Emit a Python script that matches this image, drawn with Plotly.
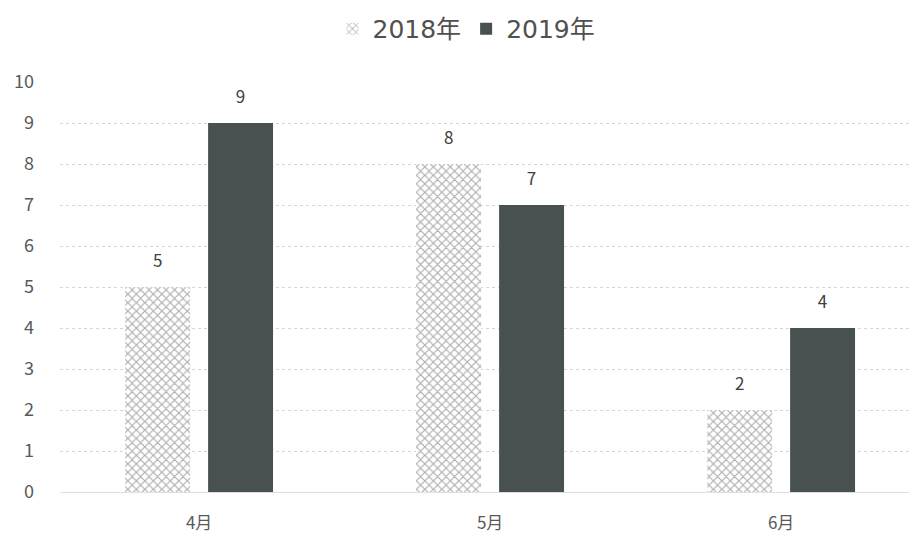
import plotly.graph_objects as go

categories = ["4月", "5月", "6月"]
series_2018 = [5, 8, 2]
series_2019 = [9, 7, 4]
yticks = list(range(0, 11))

FONT = "Noto Sans CJK SC"
LEG_FONT = "DejaVu Sans, Noto Sans CJK SC"
LABEL_TPL = "<span style='font-size:17px'>%{text}</span><br> "

fig = go.Figure()
fig.add_trace(go.Bar(
    name="2018年", x=categories, y=series_2018,
    text=series_2018, texttemplate=LABEL_TPL, textposition="outside",
    textfont=dict(size=11, color="#404040", family=FONT),
    marker=dict(color="white", line=dict(width=0),
                pattern=dict(shape="x", fgcolor="#5a5a5a", bgcolor="white", size=6, solidity=0.35)),
    cliponaxis=False,
))
fig.add_trace(go.Bar(
    name="2019年", x=categories, y=series_2019,
    text=series_2019, texttemplate=LABEL_TPL, textposition="outside",
    textfont=dict(size=11, color="#404040", family=FONT),
    marker=dict(color="#454a52", line=dict(width=0),
                pattern=dict(shape="|", fgcolor="#56465f", bgcolor="#42544b", size=4, solidity=0.5)),
    cliponaxis=False,
))

fig.update_layout(
    width=917, height=551,
    margin=dict(l=52, r=8, t=74, b=67),
    paper_bgcolor="white", plot_bgcolor="white",
    barmode="group", bargap=0.43, bargroupgap=0.217,
    font=dict(family=FONT, color="#595959"),
    showlegend=True,
    legend=dict(orientation="h", x=0.5, xref="container", xanchor="center",
                y=0.962, yref="container", yanchor="middle",
                font=dict(size=25, color="#505050", family=LEG_FONT),
                itemwidth=30, itemsizing="constant"),
    uniformtext=dict(mode=False),
)
fig.update_xaxes(
    range=[-0.478, 2.467], showgrid=False, showline=True, linecolor="#e0e0e0",
    ticks="", tickfont=dict(size=17, color="#595959", family=FONT), zeroline=False,
    ticklabelstandoff=16, automargin=False,
)
fig.update_yaxes(
    range=[0, 10], tickvals=yticks, showgrid=True, gridcolor="#d6d6d6", griddash="dot",
    gridwidth=1, showline=False, zeroline=False, ticks="",
    tickfont=dict(size=18, color="#595959", family=FONT), ticklabelstandoff=25,
    automargin=False,
)

fig.write_html("out.html")
